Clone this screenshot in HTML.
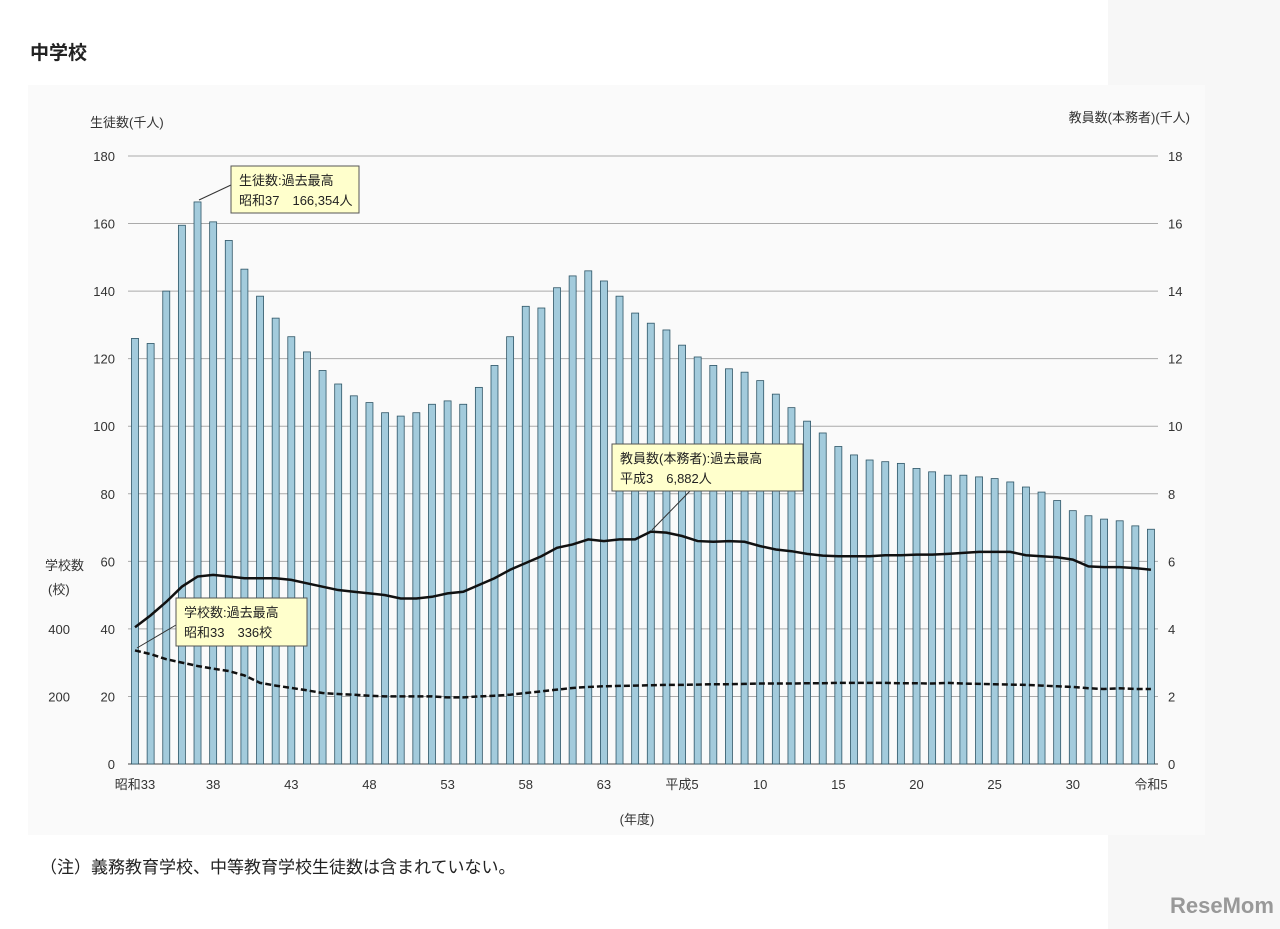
<!DOCTYPE html>
<html><head><meta charset="utf-8"><style>
body{margin:0;width:1280px;height:929px;background:#fff;font-family:"Liberation Sans","Noto Sans CJK JP",sans-serif;overflow:hidden;position:relative}
.t{position:absolute;color:#222}
</style></head><body>
<div style="position:absolute;left:1108px;top:0;width:172px;height:929px;background:#f7f7f7"></div>
<div class="t" style="left:30px;top:38px;font-size:19px;font-weight:bold">中学校</div>
<svg id="chart" width="1280" height="929" style="position:absolute;left:0;top:0">
<rect x="28" y="85" width="1177" height="750" fill="#fafafa"/>
<g id="g"></g>
</svg>
<div class="t" style="left:40px;top:853px;font-size:17px">（注）義務教育学校、中等教育学校生徒数は含まれていない。</div>
<div class="t" style="left:1170px;top:893px;font-size:22px;font-weight:bold;color:#999">ReseMom</div>
<script>
const years=[];for(let y=1958;y<=2023;y++)years.push(y);
const students=[126,124.5,140,159.5,166.4,160.5,155,146.5,138.5,132,126.5,122,116.5,112.5,109,107,104,103,104,106.5,107.5,106.5,111.5,118,126.5,135.5,135,141,144.5,146,143,138.5,133.5,130.5,128.5,124,120.5,118,117,116,113.5,109.5,105.5,101.5,98,94,91.5,90,89.5,89,87.5,86.5,85.5,85.5,85,84.5,83.5,82,80.5,78,75,73.5,72.5,72,70.5,69.5];
const teachers=[4.05,4.4,4.8,5.25,5.55,5.6,5.55,5.5,5.5,5.5,5.45,5.35,5.25,5.15,5.1,5.05,5.0,4.9,4.9,4.95,5.05,5.1,5.3,5.5,5.75,5.95,6.15,6.4,6.5,6.65,6.6,6.65,6.65,6.88,6.85,6.75,6.6,6.58,6.6,6.58,6.45,6.35,6.3,6.22,6.17,6.15,6.15,6.15,6.18,6.18,6.2,6.2,6.22,6.25,6.28,6.28,6.28,6.18,6.15,6.12,6.05,5.85,5.83,5.83,5.8,5.75];
const schools=[336,325,310,300,290,282,275,262,240,232,225,218,210,207,205,202,200,200,200,200,197,197,200,202,205,210,215,220,225,228,230,231,232,233,234,234,235,236,236,237,238,238,238,239,239,240,240,240,240,239,239,238,240,238,237,236,235,234,232,230,228,224,222,224,222,222];
const leftTicks=[0,20,40,60,80,100,120,140,160,180];
const rightTicks=[0,2,4,6,8,10,12,14,16,18];
const xLabels=["昭和33","38","43","48","53","58","63","平成5","10","15","20","25","30","令和5"];
const NS="http://www.w3.org/2000/svg";const g=document.getElementById('g');
const X0=135,DX=15.63,Y0=764,Y1=156;
const x=i=>X0+i*DX, yL=v=>Y0-(v/180)*(Y0-Y1), yR=v=>Y0-(v/18)*(Y0-Y1), yS=v=>Y0-(v/600)*(Y0-Y1)*(60/180)*3;
function el(t,a,txt){const e=document.createElementNS(NS,t);for(const k in a)e.setAttribute(k,a[k]);if(txt!=null)e.textContent=txt;g.appendChild(e);return e;}
leftTicks.forEach(v=>{const gl=el('line',{x1:128,x2:1158,y1:yL(v),y2:yL(v),stroke:v?'#aaa':'#444','stroke-width':1});

const t=el('text',{x:115,y:yL(v)+5,'text-anchor':'end','font-size':13,fill:'#333'},v);
});
rightTicks.forEach(v=>{const t=el('text',{x:1168,y:yR(v)+5,'font-size':13,fill:'#333'},v);
});
[200,400].forEach(v=>{const t=el('text',{x:70,y:Y0-v*0.338+5,'text-anchor':'end','font-size':13,fill:'#333'},v);
});
students.forEach((v,i)=>{const r=el('rect',{x:x(i)-3.5,y:yL(v),width:7,height:Y0-yL(v),fill:'#a3cbdc',stroke:'#2e5566','stroke-width':0.8});
});
const sy=v=>Y0-v*0.338;
const p1=el('polyline',{points:teachers.map((v,i)=>x(i)+','+yR(v)).join(' '),fill:'none',stroke:'#111','stroke-width':2.5});

const p2=el('polyline',{points:schools.map((v,i)=>x(i)+','+sy(v)).join(' '),fill:'none',stroke:'#111','stroke-width':2.5,'stroke-dasharray':'6,3'});

xLabels.forEach((l,k)=>{const t=el('text',{x:x(k*5),y:789,'text-anchor':'middle','font-size':13,fill:'#333'},l);
});
[["生徒数(千人)",90,127,'start','left-axis-title'],["教員数(本務者)(千人)",1190,122,'end','right-axis-title'],["学校数",45,570,'start','school-axis-title'],["(校)",48,594,'start','school-axis-unit'],["(年度)",637,824,'middle','x-axis-title']].forEach(a=>{
const t=el('text',{x:a[1],y:a[2],'text-anchor':a[3],'font-size':13,fill:'#333'},a[0]);});
function box(bx,by,w,h,l1,l2,ax1,ay1,ax2,ay2,name){
const ln=el('line',{x1:ax1,y1:ay1,x2:ax2,y2:ay2,stroke:'#333','stroke-width':1});
const r=el('rect',{x:bx,y:by,width:w,height:h,fill:'#ffffcc',stroke:'#555'});
const t1=el('text',{x:bx+8,y:by+19,'font-size':13,fill:'#222'},l1);
const t2=el('text',{x:bx+8,y:by+39,'font-size':13,fill:'#222'},l2);}
box(231,166,128,47,"生徒数:過去最高","昭和37　166,354人",231,185,199,200,'student-annotation');
box(612,444,191,47,"教員数(本務者):過去最高","平成3　6,882人",690,491,652,530,'teacher-annotation');
box(176,598,131,48,"学校数:過去最高","昭和33　336校",176,625,137,648,'school-annotation');
</script>
</body></html>
